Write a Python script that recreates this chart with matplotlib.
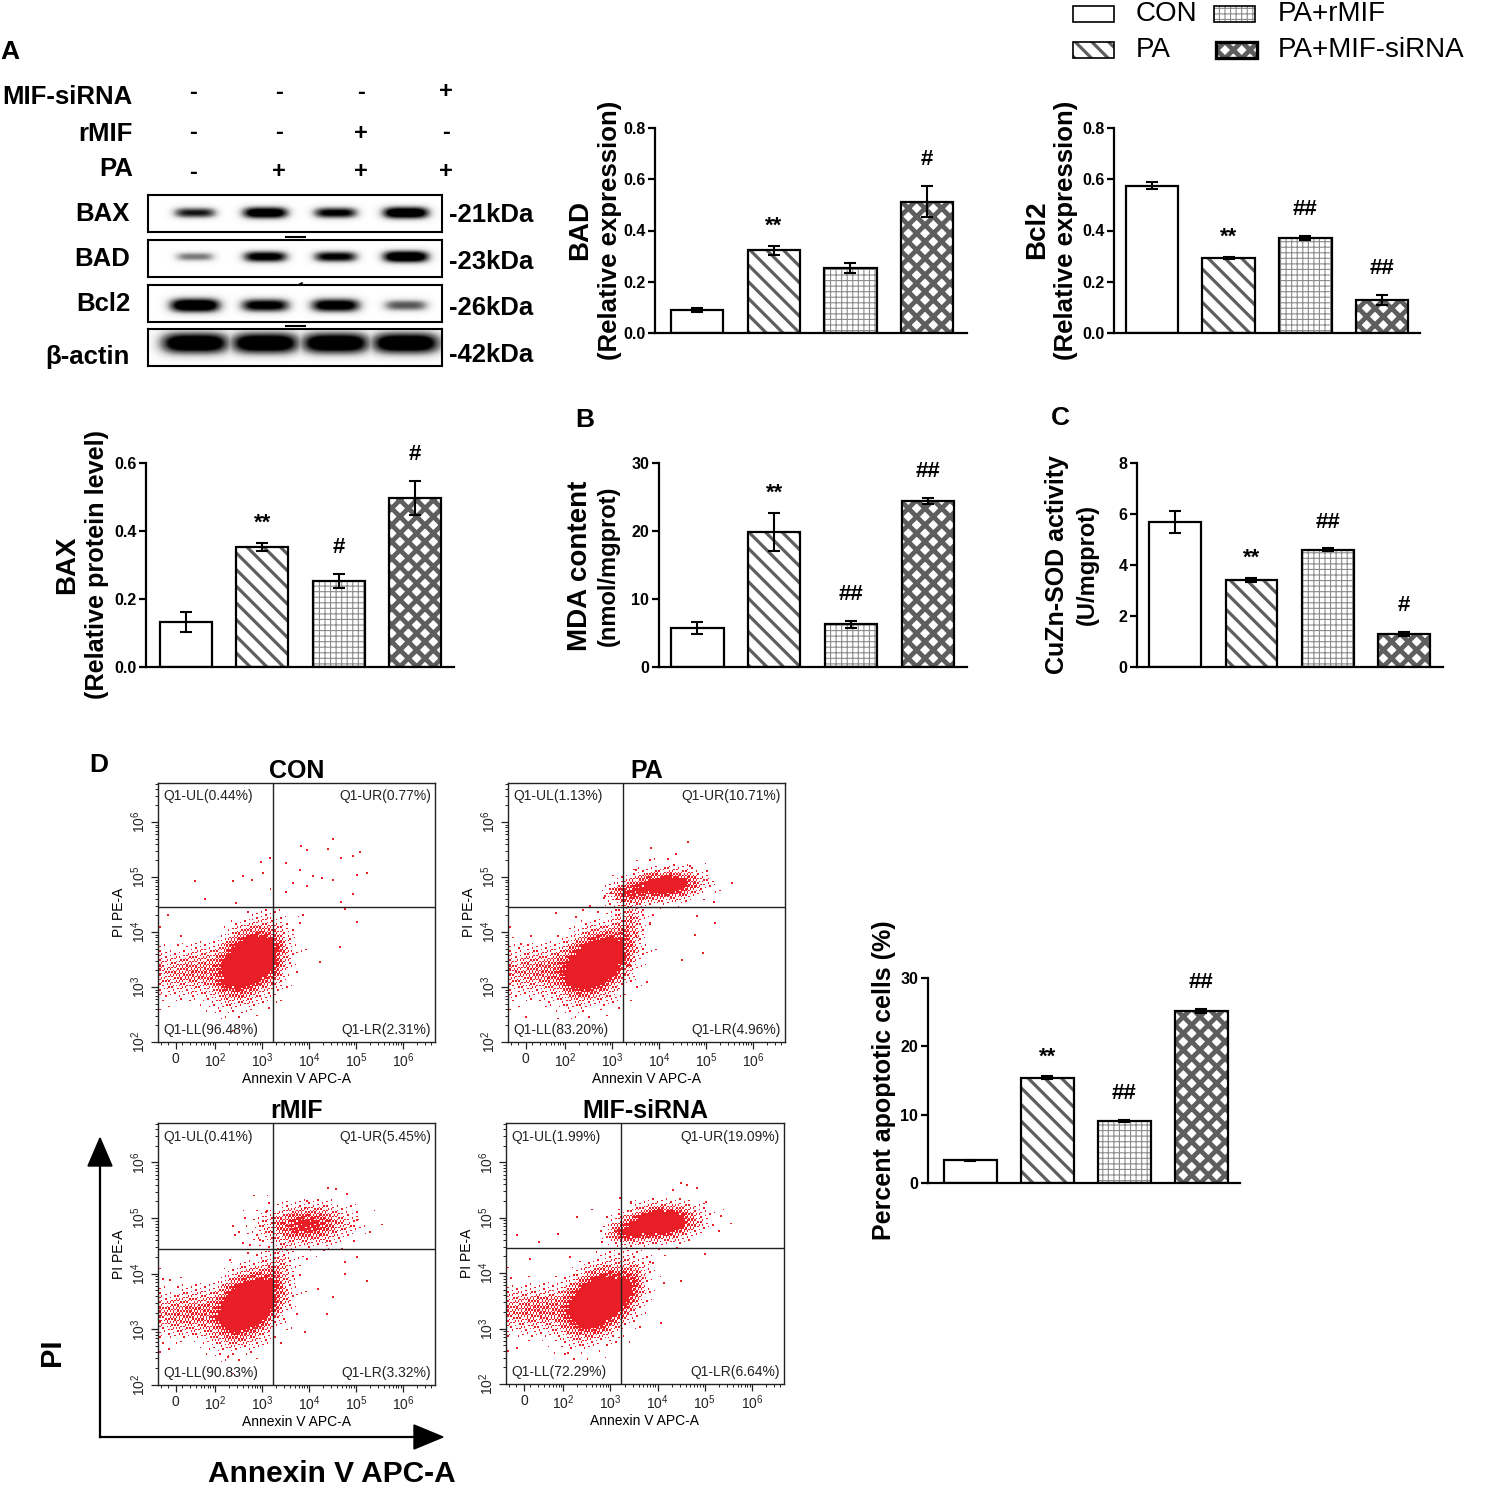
import numpy as np
import matplotlib
matplotlib.use('Agg')
import matplotlib.pyplot as plt
from matplotlib.patches import Rectangle, Polygon

plt.rcParams['font.family'] = ['Liberation Sans', 'DejaVu Sans']
plt.rcParams['mathtext.default'] = 'regular'

# ======================= DATA =======================
groups = ['CON', 'PA', 'PA+rMIF', 'PA+MIF-siRNA']

bad_mean = [0.090, 0.323, 0.253, 0.513]
bad_err = [0.008, 0.018, 0.020, 0.062]
bad_sig = ['', '**', '', '#']

bcl2_mean = [0.575, 0.293, 0.370, 0.130]
bcl2_err = [0.013, 0.005, 0.008, 0.020]
bcl2_sig = ['', '**', '##', '##']

bax_mean = [0.132, 0.353, 0.253, 0.497]
bax_err = [0.030, 0.013, 0.022, 0.050]
bax_sig = ['', '**', '#', '#']

mda_mean = [5.7, 19.85, 6.3, 24.4]
mda_err = [0.85, 2.8, 0.5, 0.45]
mda_sig = ['', '**', '##', '##']

sod_mean = [5.69, 3.41, 4.59, 1.29]
sod_err = [0.43, 0.08, 0.06, 0.07]
sod_sig = ['', '**', '##', '#']

apop_mean = [3.3, 15.4, 9.05, 25.2]
apop_err = [0.10, 0.20, 0.15, 0.25]
apop_sig = ['', '**', '##', '##']

# Western blot
wb_row_names = ['MIF-siRNA', 'rMIF', 'PA']
wb_mif_sirna = ['-', '-', '-', '+']
wb_rmif = ['-', '-', '+', '-']
wb_pa = ['-', '+', '+', '+']
wb_proteins = ['BAX', 'BAD', 'Bcl2', 'β-actin']
wb_kda = ['-21kDa', '-23kDa', '-26kDa', '-42kDa']
band_bax = [0.70, 0.95, 0.80, 1.00]
band_bad = [0.45, 0.85, 0.80, 1.00]
band_bcl2 = [1.00, 0.85, 0.90, 0.55]
band_actin = [1.00, 1.00, 1.00, 1.00]

# Flow cytometry (axis units: log10 display position; "0" sits at 1.17)
flow_titles = ['CON', 'PA', 'rMIF', 'MIF-siRNA']
quad_names = ['Q1-UL', 'Q1-UR', 'Q1-LL', 'Q1-LR']
pct_con = [0.44, 0.77, 96.48, 2.31]
pct_pa = [1.13, 10.71, 83.20, 4.96]
pct_rmif = [0.41, 5.45, 90.83, 3.32]
pct_sirna = [1.99, 19.09, 72.29, 6.64]
gate_annexin_log = 3.23
gate_pi_log = 4.45
x_tick_pos = [1.17, 2, 3, 4, 5, 6]
x_tick_lab = ['0', '$10^2$', '$10^3$', '$10^4$', '$10^5$', '$10^6$']
y_tick_pos = [2, 3, 4, 5, 6]
y_tick_lab = ['$10^2$', '$10^3$', '$10^4$', '$10^5$', '$10^6$']

# populations: (annexin centre, PI centre, sd annexin, sd PI, corr, relative density)
pop_con = [(2.72, 3.45, 0.33, 0.30, 0.35, 1.00),
           (1.60, 3.28, 0.55, 0.22, 0.15, 0.13),
           (0.83, 3.35, 0.02, 0.35, 0.00, 0.12),
           (3.25, 3.45, 0.12, 0.30, 0.00, 0.10)]
pop_pa = [(2.62, 3.42, 0.34, 0.29, 0.35, 1.00),
          (1.55, 3.30, 0.55, 0.22, 0.10, 0.14),
          (0.83, 3.30, 0.02, 0.40, 0.00, 0.10),
          (4.12, 4.85, 0.38, 0.13, 0.15, 0.55),
          (3.35, 4.70, 0.22, 0.10, 0.00, 0.20),
          (3.30, 3.95, 0.20, 0.45, 0.50, 0.12)]
pop_rmif = [(2.68, 3.42, 0.34, 0.29, 0.35, 1.00),
            (1.50, 3.30, 0.55, 0.20, 0.10, 0.15),
            (0.83, 3.30, 0.02, 0.40, 0.00, 0.10),
            (3.95, 4.88, 0.45, 0.17, 0.10, 0.30),
            (3.25, 3.90, 0.20, 0.40, 0.50, 0.10)]
pop_sirna = [(2.72, 3.47, 0.34, 0.29, 0.35, 1.00),
             (1.50, 3.35, 0.55, 0.20, 0.10, 0.15),
             (0.83, 3.30, 0.02, 0.40, 0.00, 0.10),
             (4.05, 4.90, 0.38, 0.15, 0.15, 0.70),
             (3.35, 4.72, 0.20, 0.10, 0.00, 0.30),
             (3.35, 3.70, 0.20, 0.25, 0.40, 0.22)]

# sparse events (annexin log, PI log)
pts_con = [(4.52, 5.70), (3.84, 5.56), (3.96, 5.49), (4.41, 5.51), (5.09, 5.45), (4.94, 5.38),
           (4.69, 5.34), (3.52, 5.25), (3.17, 5.34), (3.81, 5.13), (4.09, 5.01), (4.27, 4.98),
           (4.52, 4.95), (5.02, 5.04), (5.23, 5.07), (3.67, 4.90), (3.95, 4.84), (3.52, 4.72),
           (4.94, 4.70), (4.69, 4.55), (4.76, 4.42), (5.02, 4.19), (4.66, 3.73), (4.23, 3.46),
           (3.81, 4.17), (2.60, 5.01), (2.78, 4.95), (2.39, 4.92), (3.03, 5.07), (1.57, 4.92),
           (1.79, 4.60), (1.01, 4.31), (2.45, 4.53), (2.98, 5.28)]
pts_pa = [(4.61, 5.64), (3.83, 5.53), (4.37, 5.42), (4.66, 5.20), (4.76, 4.99), (3.81, 5.31),
          (3.52, 5.13), (2.98, 4.71), (2.85, 4.66), (3.10, 4.60), (5.16, 4.55), (5.19, 4.17),
          (4.80, 4.29), (4.76, 3.95), (4.94, 3.62), (4.48, 3.50), (3.81, 4.17), (3.52, 3.93),
          (3.67, 3.70), (3.38, 3.40), (3.74, 3.10), (1.82, 4.34), (2.24, 4.28), (2.39, 4.40),
          (1.07, 3.79), (1.18, 2.45), (2.53, 4.47)]
pts_rmif = [(4.41, 5.55), (4.58, 5.52), (4.80, 5.43), (3.96, 5.30), (3.92, 5.18), (5.02, 4.97),
            (3.10, 5.12), (2.42, 4.70), (2.74, 4.52), (2.60, 4.55), (2.96, 4.61), (4.76, 4.21),
            (5.02, 4.30), (4.76, 4.00), (5.23, 3.87), (4.52, 3.58), (4.19, 3.73), (3.81, 3.97),
            (3.95, 4.27), (4.38, 3.27), (3.92, 2.95), (2.32, 4.24), (1.04, 3.88), (2.28, 2.51)]
pts_sirna = [(4.49, 5.62), (4.63, 5.59), (4.84, 5.53), (4.32, 5.50), (5.34, 5.04), (5.02, 5.28),
             (3.21, 5.35), (3.43, 5.26), (2.29, 5.01), (1.90, 4.71), (1.02, 4.68), (1.48, 4.56),
             (2.15, 4.29), (2.83, 4.56), (5.01, 4.35), (4.49, 3.86), (4.07, 3.10), (1.30, 4.26),
             (3.78, 4.65), (3.85, 4.20), (2.04, 2.55), (4.14, 3.83)]

# ======================= FIGURE =======================
W, H = 1486, 1488
fig = plt.figure(figsize=(W / 100, H / 100), dpi=100)
fig.patch.set_facecolor('white')


def add_ax(l, t, r, b, **kw):
    return fig.add_axes([l / W, 1 - b / H, (r - l) / W, (b - t) / H], **kw)


def ftext(x, y, s, **kw):
    return fig.text(x / W, 1 - y / H, s, **kw)


HATCH = [None, '\\\\', '+++', 'xx']
HATCH_COL = ['white', '#5f5f5f', '#8c8c8c', '#5e5e5e']
HATCH_LW = [0.5, 2.3, 0.8, 3.4]


def set_hatch_lw(patch, lw):
    if hasattr(patch, 'set_hatch_linewidth'):
        patch.set_hatch_linewidth(lw)
    orig = patch.draw

    def draw(renderer, _orig=orig, _lw=lw):
        with plt.rc_context({'hatch.linewidth': _lw}):
            _orig(renderer)
    patch.draw = draw


def bar_panel(box, means, errs, sigs, ylim, yticks, fmt, xlim):
    ax = add_ax(*box)
    x = np.arange(len(means))
    for i in range(len(means)):
        bars = ax.bar(x[i], means[i], width=0.68, color='white',
                      edgecolor=HATCH_COL[i], hatch=HATCH[i], linewidth=0, zorder=2)
        for p in bars:
            set_hatch_lw(p, HATCH_LW[i])
        ax.bar(x[i], means[i], width=0.68, fill=False, edgecolor='black',
               linewidth=1.6, zorder=3)
    ax.errorbar(x, means, yerr=errs, fmt='none', ecolor='black', elinewidth=1.5,
                capsize=4.5, capthick=1.5, zorder=4)
    for i, s in enumerate(sigs):
        if s:
            star = '*' in s
            ax.annotate(s, (x[i], means[i] + errs[i]), xytext=(0, 14 if star else 19),
                        textcoords='offset points', ha='center', va='center',
                        fontsize=16, fontweight='bold')
    ax.set_xlim(*xlim)
    ax.set_ylim(*ylim)
    ax.set_yticks(yticks)
    ax.set_yticklabels([fmt.format(v) for v in yticks], fontsize=11.5, fontweight='bold')
    ax.set_xticks([])
    ax.spines[['top', 'right']].set_visible(False)
    ax.spines[['left', 'bottom']].set_linewidth(1.6)
    ax.tick_params(axis='y', length=5, width=1.6, pad=2)
    ax.patch.set_alpha(0)
    return ax


# ---- bar charts ----
bar_panel((655, 128, 967, 333), bad_mean, bad_err, bad_sig, (0, 0.8),
          [0, 0.2, 0.4, 0.6, 0.8], '{:.1f}', (-0.55, 3.52))
ftext(580, 230, 'BAD', rotation=90, ha='center', va='center', fontsize=20, fontweight='bold')
ftext(610, 230, '(Relative expression)', rotation=90, ha='center', va='center',
      fontsize=18.5, fontweight='bold')

bar_panel((1114, 128, 1420, 333), bcl2_mean, bcl2_err, bcl2_sig, (0, 0.8),
          [0, 0.2, 0.4, 0.6, 0.8], '{:.1f}', (-0.49, 3.49))
ftext(1037, 230, 'Bcl2', rotation=90, ha='center', va='center', fontsize=20, fontweight='bold')
ftext(1066, 230, '(Relative expression)', rotation=90, ha='center', va='center',
      fontsize=18.5, fontweight='bold')

bar_panel((146, 463, 454, 667), bax_mean, bax_err, bax_sig, (0, 0.6),
          [0, 0.2, 0.4, 0.6], '{:.1f}', (-0.52, 3.51))
ftext(67, 565, 'BAX', rotation=90, ha='center', va='center', fontsize=20, fontweight='bold')
ftext(97, 565, '(Relative protein level)', rotation=90, ha='center', va='center',
      fontsize=18.2, fontweight='bold')

bar_panel((659, 463, 967, 667), mda_mean, mda_err, mda_sig, (0, 30),
          [0, 10, 20, 30], '{:.0f}', (-0.5, 3.51))
ftext(580, 566, 'MDA content', rotation=90, ha='center', va='center', fontsize=20, fontweight='bold')
ftext(608, 566, '(nmol/mgprot)', rotation=90, ha='center', va='center', fontsize=17,
      fontweight='bold')

bar_panel((1137, 463, 1443, 667), sod_mean, sod_err, sod_sig, (0, 8),
          [0, 2, 4, 6, 8], '{:.0f}', (-0.5, 3.51))
ftext(1057, 565, 'CuZn-SOD activity', rotation=90, ha='center', va='center', fontsize=18,
      fontweight='bold')
ftext(1087, 565, '(U/mgprot)', rotation=90, ha='center', va='center', fontsize=17,
      fontweight='bold')

bar_panel((928, 978, 1240, 1183), apop_mean, apop_err, apop_sig, (0, 30),
          [0, 10, 20, 30], '{:.0f}', (-0.55, 3.5))
ftext(884, 1080, 'Percent apoptotic cells (%)', rotation=90, ha='center', va='center',
      fontsize=18, fontweight='bold')

# ---- western blot ----
row_y = [97, 134, 169]
sign_y = [92, 133, 172]
sign_x = [193, 279, 361, 446]
for r, (name, signs) in enumerate(zip(wb_row_names, [wb_mif_sirna, wb_rmif, wb_pa])):
    ftext(133, row_y[r], name, ha='right', va='center', fontsize=18.5, fontweight='bold')
    for j, s in enumerate(signs):
        ftext(sign_x[j], sign_y[r], s, ha='center', va='center', fontsize=17, fontweight='bold')

blot_tops = [195, 240, 285, 329]
blot_h = 37
band_sets = [band_bax, band_bad, band_bcl2, band_actin]
band_yc = [0.52, 0.55, 0.45, 0.62]
band_hw = [0.32, 0.32, 0.35, 0.47]
band_hh = [0.17, 0.17, 0.20, 0.30]
label_y = [214, 259, 304, 357]
kda_y = [215, 262, 308, 355]
XB = (-0.667, 3.51)
for k in range(4):
    ax = add_ax(148, blot_tops[k], 442, blot_tops[k] + blot_h)
    xs = np.linspace(XB[0], XB[1], 500)
    ys = np.linspace(0, 1, 80)
    X, Y = np.meshgrid(xs, ys)
    D = np.zeros_like(X)
    for lane, s in enumerate(band_sets[k]):
        hw = band_hw[k] * (0.75 + 0.3 * s)
        hh = band_hh[k] * (0.55 + 0.45 * s)
        prof = np.exp(-np.abs((X - lane) / hw) ** 4) * np.exp(-np.abs((Y - band_yc[k]) / hh) ** 2.2)
        D = np.maximum(D, s * prof)
    D = np.clip(D * 1.35, 0, 1)
    ax.imshow(D, extent=(XB[0], XB[1], 0, 1), origin='lower', cmap='Greys', vmin=0, vmax=1,
              aspect='auto', interpolation='bilinear')
    ax.set_xlim(*XB)
    ax.set_ylim(0, 1)
    ax.set_xticks([])
    ax.set_yticks([])
    for sp in ax.spines.values():
        sp.set_linewidth(1.5)
    ftext(130, label_y[k], wb_proteins[k], ha='right', va='center', fontsize=18.5, fontweight='bold')
    ftext(449, kda_y[k], wb_kda[k], ha='left', va='center', fontsize=18.5, fontweight='bold')

# ---- overlay for decorations ----
ov = fig.add_axes([0, 0, 1, 1], zorder=-1)
ov.set_xlim(0, W)
ov.set_ylim(H, 0)
ov.axis('off')
ov.plot([286, 305], [237, 237], color='black', lw=1.5)
ov.plot([286, 305], [326, 326], color='black', lw=1.5)
ov.plot([290, 302], [289, 283], color='black', lw=1.2)

# arrows
ov.plot([100, 100], [1437, 1160], color='black', lw=1.6)
ov.add_patch(Polygon([[88, 1166], [112, 1166], [100, 1138]], closed=True, color='black'))
ov.plot([100, 420], [1437, 1437], color='black', lw=1.6)
ov.add_patch(Polygon([[414, 1425], [414, 1449], [443, 1437]], closed=True, color='black'))
ftext(52, 1352, 'PI', rotation=90, ha='center', va='center', fontsize=21, fontweight='bold')
ftext(332, 1474, 'Annexin V APC-A', ha='center', va='center', fontsize=21.5, fontweight='bold')

# legend
leg_pos = [(1073, 6), (1073, 42), (1214, 6), (1216, 42)]
leg_txt = [(1136, 14), (1136, 50), (1278, 14), (1278, 50)]
lax = fig.add_axes([0, 0, 1, 1], zorder=5)
lax.set_xlim(0, W)
lax.set_ylim(H, 0)
lax.axis('off')
for i, (lx, ly) in enumerate(leg_pos):
    p = lax.add_patch(Rectangle((lx, ly), 41, 16, facecolor='white',
                                edgecolor=HATCH_COL[i], hatch=HATCH[i], lw=0))
    set_hatch_lw(p, HATCH_LW[i])
    lax.add_patch(Rectangle((lx, ly), 41, 16, fill=False, edgecolor='black',
                            lw=1.2 if i < 3 else 2.4))
    lax.text(leg_txt[i][0], leg_txt[i][1], groups[i], ha='left', va='center', fontsize=20)

# panel letters
ftext(10, 52, 'A', ha='center', va='center', fontsize=19, fontweight='bold')
ftext(585, 420, 'B', ha='center', va='center', fontsize=19, fontweight='bold')
ftext(1060, 418, 'C', ha='center', va='center', fontsize=19, fontweight='bold')
ftext(99, 765, 'D', ha='center', va='center', fontsize=19, fontweight='bold')

# ---- flow cytometry ----
XL = (0.79, 6.68)
YL = (2.0, 6.71)
RED = np.array([0.92, 0.12, 0.15])

flow_boxes = [(158, 783, 435, 1042), (508, 783, 785, 1042),
              (158, 1123, 435, 1385), (506, 1123, 784, 1384)]
flow_pops = [pop_con, pop_pa, pop_rmif, pop_sirna]
flow_pts = [pts_con, pts_pa, pts_rmif, pts_sirna]
flow_pcts = [pct_con, pct_pa, pct_rmif, pct_sirna]
x_minor = [0.85, 1.0] + [np.log10(k * 10.0 ** n) for n in range(1, 7) for k in range(2, 10)]
x_minor = [v for v in x_minor if XL[0] < v < XL[1] and v not in x_tick_pos]
y_minor = [np.log10(k * 10.0 ** n) for n in range(2, 7) for k in range(2, 10)]
y_minor = [v for v in y_minor if YL[0] < v < YL[1]]

nx, ny = 186, 172
# deterministic dither threshold (interleaved-gradient pattern) for the density shading
jj, ii = np.meshgrid(np.arange(nx), np.arange(ny))
DITHER = np.mod(52.9829189 * np.mod(0.06711056 * jj + 0.00583715 * ii, 1.0), 1.0)

for f in range(4):
    ax = add_ax(*flow_boxes[f])
    ue = np.linspace(XL[0], XL[1], nx + 1)
    ve = np.linspace(YL[0], YL[1], ny + 1)
    U, V = np.meshgrid((ue[:-1] + ue[1:]) / 2, (ve[:-1] + ve[1:]) / 2)
    D = np.zeros_like(U)
    for (cu, cv, su, sv, rho, w) in flow_pops[f]:
        du = (U - cu) / su
        dv = (V - cv) / sv
        Q = (du ** 2 - 2 * rho * du * dv + dv ** 2) / (1 - rho ** 2)
        D += w * np.exp(-0.5 * Q)
    P = np.clip(D / 0.32, 0, 1) ** 0.8
    on = P > DITHER
    img = np.zeros((ny, nx, 4))
    img[on, :3] = RED
    img[on, 3] = 1.0
    ax.imshow(img, extent=(XL[0], XL[1], YL[0], YL[1]), origin='lower',
              interpolation='nearest', aspect='auto', zorder=1)
    pu = [p[0] for p in flow_pts[f]]
    pv = [p[1] for p in flow_pts[f]]
    ax.scatter(pu, pv, s=3, marker='s', color=RED, linewidths=0, zorder=2)
    ax.axvline(gate_annexin_log, color='#222222', lw=1.0, zorder=3)
    ax.axhline(gate_pi_log, color='#222222', lw=1.0, zorder=3)
    ax.set_xlim(*XL)
    ax.set_ylim(*YL)
    ax.set_xticks(x_tick_pos)
    ax.set_xticklabels(x_tick_lab, fontsize=10)
    ax.set_xticks(x_minor, minor=True)
    ax.set_yticks(y_tick_pos)
    ax.set_yticklabels(y_tick_lab, fontsize=10, rotation=90, va='center')
    ax.set_yticks(y_minor, minor=True)
    ax.tick_params(which='major', length=5, width=0.9, pad=2, colors='#222222')
    ax.tick_params(which='minor', length=2.5, width=0.7, colors='#222222')
    for sp in ax.spines.values():
        sp.set_linewidth(1.0)
        sp.set_color('#222222')
    ax.set_xlabel('Annexin V APC-A', fontsize=10, labelpad=1)
    ax.set_ylabel('PI PE-A', fontsize=10, labelpad=3)
    ax.set_title(flow_titles[f], fontsize=18, fontweight='bold', pad=2)
    pc = flow_pcts[f]
    lab = [f'{quad_names[q]}({pc[q]:.2f}%)' for q in range(4)]
    kw = dict(transform=ax.transAxes, fontsize=10, color='#222222', zorder=5)
    ax.text(0.02, 0.975, lab[0], ha='left', va='top', **kw)
    ax.text(0.985, 0.975, lab[1], ha='right', va='top', **kw)
    ax.text(0.02, 0.02, lab[2], ha='left', va='bottom', **kw)
    ax.text(0.985, 0.02, lab[3], ha='right', va='bottom', **kw)

fig.savefig('out.png', dpi=100, facecolor='white')
